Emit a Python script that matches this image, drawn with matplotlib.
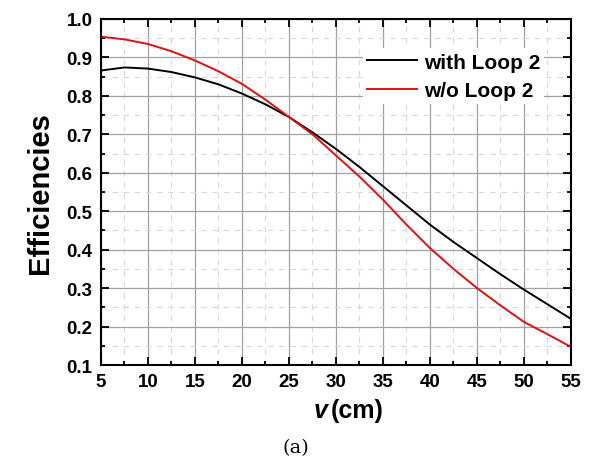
import numpy as np
import matplotlib.pyplot as plt
from matplotlib.ticker import MultipleLocator

# data
v = [5, 7.5, 10, 12.5, 15, 17.5, 20, 22.5, 25, 27.5, 30, 32.5, 35, 37.5,
     40, 42.5, 45, 47.5, 50, 52.5, 55]
eff_with = [0.866, 0.874, 0.871, 0.862, 0.848, 0.830, 0.806, 0.778, 0.745,
            0.705, 0.662, 0.615, 0.565, 0.515, 0.465, 0.420, 0.378, 0.336,
            0.296, 0.258, 0.220]
eff_without = [0.954, 0.947, 0.935, 0.916, 0.892, 0.864, 0.831, 0.790, 0.745,
               0.700, 0.645, 0.590, 0.530, 0.465, 0.404, 0.350, 0.300, 0.255,
               0.212, 0.180, 0.147]
yticks = [0.1, 0.2, 0.3, 0.4, 0.5, 0.6, 0.7, 0.8, 0.9, 1.0]

plt.rcParams['font.family'] = ['Liberation Sans', 'DejaVu Sans']

fig = plt.figure(figsize=(5.92, 4.64), dpi=100)
ax = fig.add_axes([0.1706, 0.2112, 0.7939, 0.7457])

ax.plot(v, eff_with, color='black', lw=1.4, label='with Loop 2')
ax.plot(v, eff_without, color='#e01010', lw=1.4, label='w/o Loop 2')

ax.set_xlim(5, 55)
ax.set_ylim(0.1, 1.0)
ax.xaxis.set_major_locator(MultipleLocator(5))
ax.xaxis.set_minor_locator(MultipleLocator(2.5))
ax.set_yticks(yticks)
ax.set_yticklabels(['%.1f' % t for t in yticks])
ax.yaxis.set_minor_locator(MultipleLocator(0.05))

# grid: solid major, dashed minor
ax.grid(True, which='major', color='#a0a0a0', lw=0.9)
ax.grid(True, which='minor', color='#d8d8d8', lw=0.8, ls=(0, (5, 5)))
ax.set_axisbelow(True)

ax.tick_params(which='both', direction='in', top=True, right=True,
               width=1.3, labelsize=13.5)
ax.tick_params(which='major', length=6, pad=6)
ax.tick_params(which='minor', length=3)
for lab in ax.get_xticklabels() + ax.get_yticklabels():
    lab.set_fontweight('bold')
for s in ax.spines.values():
    s.set_linewidth(1.5)

ax.set_ylabel('Efficiencies', fontsize=21, fontweight='bold', labelpad=9)
fig.text(0.553, 0.114, 'v', fontsize=18, fontweight='bold', style='italic',
         ha='right', va='center')
fig.text(0.558, 0.114, '(cm)', fontsize=18, fontweight='bold',
         ha='left', va='center')

leg = ax.legend(loc='upper right', bbox_to_anchor=(0.965, 0.945), fontsize=15,
                frameon=True, handlelength=2.4, handletextpad=0.3,
                borderpad=0.2, labelspacing=0.45)
leg.get_frame().set_edgecolor('none')
leg.get_frame().set_facecolor('white')
leg.get_frame().set_alpha(1)
for t in leg.get_texts():
    t.set_fontweight('bold')

fig.text(0.5, 0.035, '(a)', fontsize=14, family='DejaVu Serif',
         ha='center', va='center')

fig.savefig('out.png', dpi=100, facecolor='white')
